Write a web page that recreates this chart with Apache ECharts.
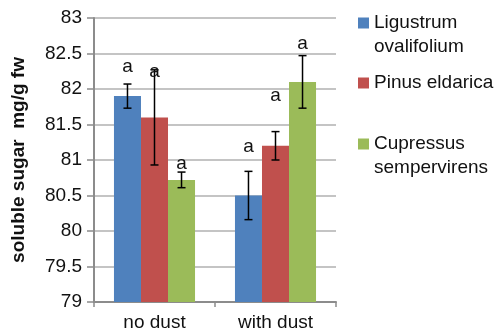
<!DOCTYPE html>
<html><head><meta charset="utf-8">
<script src="https://cdn.jsdelivr.net/npm/echarts@6/dist/echarts.min.js"></script>
<style>html,body{margin:0;padding:0;background:#fff}#c{width:500px;height:332px}</style>
</head><body><div id="c"></div>
<script>
var categories = ['no dust', 'with dust'];
var seriesNames = ['Ligustrum ovalifolium', 'Pinus eldarica', 'Cupressus sempervirens'];
var legendLabels = ['Ligustrum\novalifolium', 'Pinus eldarica', 'Cupressus\nsempervirens'];
var ligustrum = [81.9, 80.5];
var pinus = [81.6, 81.2];
var cupressus = [80.72, 82.1];
var ligustrumErr = [0.17, 0.34];
var pinusErr = [0.67, 0.2];
var cupressusErr = [0.11, 0.37];
var ligustrumSig = ['a', 'a'];
var pinusSig = ['a', 'a'];
var cupressusSig = ['a', 'a'];
var ligustrumSigY = [82.31, 81.19];
var pinusSigY = [82.24, 81.9];
var cupressusSigY = [80.95, 82.64];
var yTicks = [79, 79.5, 80, 80.5, 81, 81.5, 82, 82.5, 83];

var colors = ['#4F81BD', '#C0504D', '#9BBB59'];
var values = [ligustrum, pinus, cupressus];
var errs = [ligustrumErr, pinusErr, cupressusErr];
var sigs = [ligustrumSig, pinusSig, cupressusSig];
var sigYs = [ligustrumSigY, pinusSigY, cupressusSigY];
var GAP = 0.33;
var FONT = 'Liberation Sans, Arial, sans-serif';

function barOffset(api, i) {
  var band = api.size([1, 0])[0];
  var bw = band * (1 - GAP) / 3;
  return { off: (i - 1) * bw, bw: bw };
}

var series = [];
values.forEach(function (vals, i) {
  series.push({
    name: seriesNames[i], type: 'bar', data: vals,
    itemStyle: { color: colors[i] }, barGap: '0%', barCategoryGap: (GAP * 100) + '%',
    z: 2
  });
});
values.forEach(function (vals, i) {
  series.push({
    type: 'custom', silent: true, z: 5,
    data: vals.map(function (v, k) { return [k, v - errs[i][k], v + errs[i][k]]; }),
    encode: { x: 0, y: [1, 2] },
    renderItem: function (params, api) {
      var k = api.value(0);
      var o = barOffset(api, i);
      var lo = api.coord([k, api.value(1)]);
      var hi = api.coord([k, api.value(2)]);
      var x = lo[0] + o.off;
      var cw = 4;
      var st = { stroke: '#000', lineWidth: 1.5 };
      return { type: 'group', children: [
        { type: 'line', shape: { x1: x, y1: lo[1], x2: x, y2: hi[1] }, style: st },
        { type: 'line', shape: { x1: x - cw, y1: lo[1], x2: x + cw, y2: lo[1] }, style: st },
        { type: 'line', shape: { x1: x - cw, y1: hi[1], x2: x + cw, y2: hi[1] }, style: st }
      ]};
    }
  });
});
values.forEach(function (vals, i) {
  series.push({
    type: 'custom', silent: true, z: 6,
    data: vals.map(function (v, k) { return [k, sigYs[i][k], sigs[i][k]]; }),
    encode: { x: 0, y: 1 },
    renderItem: function (params, api) {
      var k = api.value(0);
      var o = barOffset(api, i);
      var p = api.coord([k, api.value(1)]);
      return { type: 'text', style: {
        text: sigs[i][k], x: p[0] + o.off, y: p[1],
        align: 'center', verticalAlign: 'middle',
        font: '19px ' + FONT, fill: '#111'
      }};
    }
  });
});

var legendTops = [-13, 71, 108];
var legends = legendLabels.map(function (lab, i) {
  var multi = lab.indexOf('\n') >= 0;
  var txt = multi ? ' \n' + lab : lab;
  return {
    data: [seriesNames[i]], orient: 'vertical', left: 358, top: legendTops[i],
    padding: 0, itemWidth: 11, itemHeight: 11, itemGap: 0,
    icon: 'rect', selectedMode: false,
    formatter: function () { return txt; },
    textStyle: { fontFamily: FONT, fontSize: 19, color: '#111', lineHeight: 24 }
  };
});

var chart = echarts.init(document.getElementById('c'));
chart.setOption({
  animation: false,
  color: colors,
  grid: { left: 94, right: 164, top: 18, bottom: 30, containLabel: false },
  legend: legends,
  xAxis: {
    type: 'category', data: categories,
    axisLine: { lineStyle: { color: '#8c8c8c', width: 2 } },
    axisTick: { show: true, length: 5, lineStyle: { color: '#8c8c8c', width: 1.5 } },
    axisLabel: { fontFamily: FONT, fontSize: 19, color: '#111', margin: 11 }
  },
  yAxis: {
    type: 'value', min: 79, max: 83, interval: 0.5,
    name: 'soluble sugar  mg/g fw', nameLocation: 'middle', nameGap: 66,
    nameTextStyle: { fontFamily: FONT, fontSize: 19, fontWeight: 'bold', color: '#111' },
    axisLine: { show: true, lineStyle: { color: '#8c8c8c', width: 2 } },
    axisTick: { show: true, length: 7, lineStyle: { color: '#8c8c8c', width: 1.5 } },
    axisLabel: { fontFamily: FONT, fontSize: 19, color: '#111', margin: 12,
      formatter: function (v) { return String(v); } },
    splitLine: { lineStyle: { color: '#b0b0b0', width: 1.5 } }
  },
  series: series
});
</script></body></html>
